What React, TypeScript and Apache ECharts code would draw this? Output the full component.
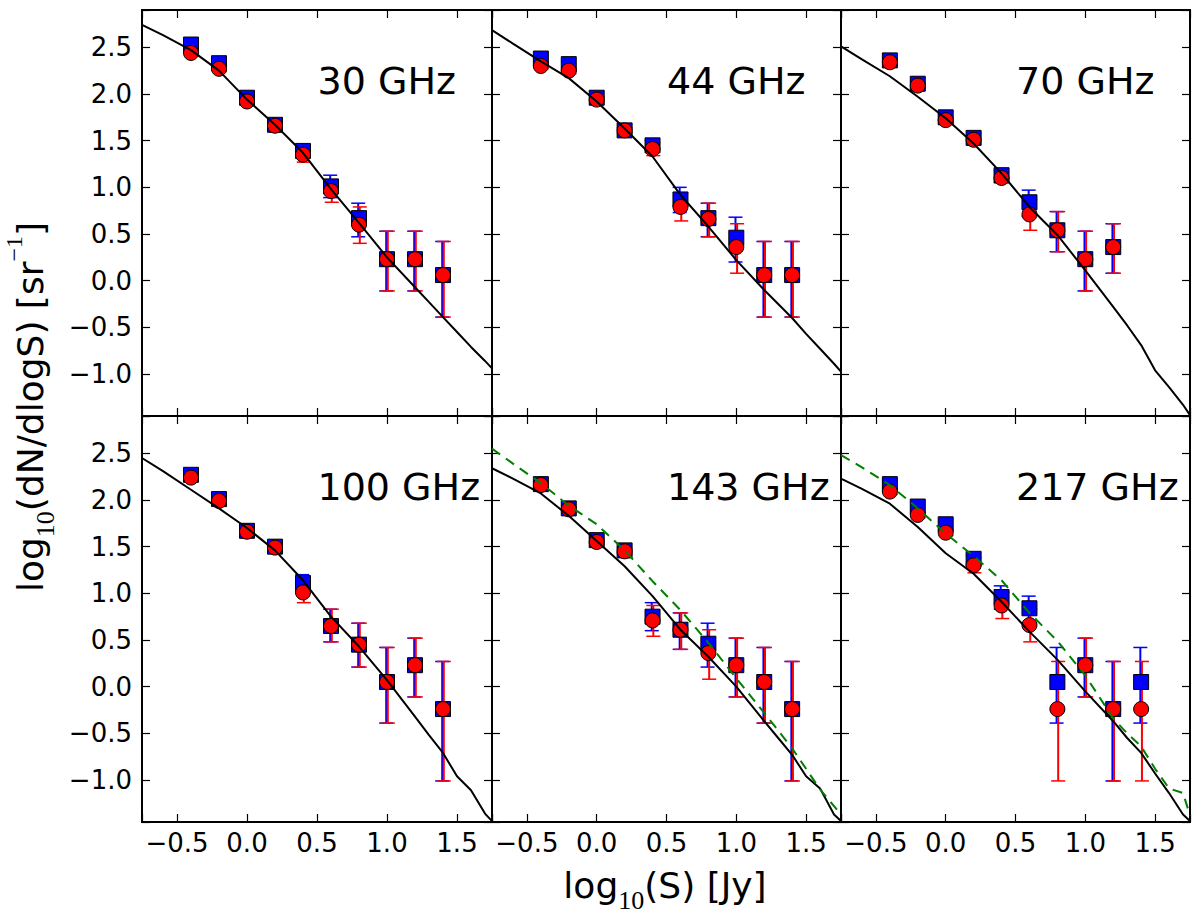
import { useEffect, useRef } from 'react';
import * as echarts from 'echarts';

const SANS = 'DejaVu Sans';
const SERIF = 'Liberation Serif';

const panelNames = ['30 GHz', '44 GHz', '70 GHz', '100 GHz', '143 GHz', '217 GHz'];

// tick labels drawn on the shared axes
const xTickValues = [-0.5, 0.0, 0.5, 1.0, 1.5];
const yTickValues = [-1.0, -0.5, 0.0, 0.5, 1.0, 1.5, 2.0, 2.5];

// log10(S) bins of the measured counts
const fluxX = [-0.4, -0.2, 0.0, 0.2, 0.4, 0.6, 0.8, 1.0, 1.2, 1.4];

// blue squares: value, lower and upper end of the error bar
const blueVal = [
  [2.53, 2.33, 1.96, 1.67, 1.39, 1.01, 0.67, 0.23, 0.23, 0.06],
  [2.38, 2.32, 1.96, 1.61, 1.45, 0.87, 0.67, 0.46, 0.06, 0.06],
  [2.36, 2.11, 1.75, 1.53, 1.13, 0.84, 0.54, 0.23, 0.36],
  [2.27, 2.01, 1.67, 1.5, 1.11, 0.65, 0.45, 0.05, 0.23, -0.24],
  [2.17, 1.91, 1.57, 1.46, 0.75, 0.61, 0.46, 0.23, 0.05, -0.24],
  [2.17, 1.93, 1.74, 1.37, 0.96, 0.84, 0.05, 0.23, -0.24, 0.05],
];
const blueLo = [
  [2.5, 2.3, 1.93, 1.64, 1.34, 0.89, 0.47, -0.11, -0.11, -0.39],
  [2.35, 2.29, 1.93, 1.58, 1.4, 0.73, 0.47, 0.2, -0.39, -0.39],
  [2.33, 2.08, 1.72, 1.5, 1.05, 0.69, 0.31, -0.11, 0.08],
  [2.24, 1.98, 1.64, 1.47, 1.0, 0.48, 0.21, -0.39, -0.11, -1.01],
  [2.14, 1.88, 1.54, 1.43, 0.6, 0.4, 0.21, -0.11, -0.39, -1.01],
  [2.14, 1.9, 1.71, 1.33, 0.83, 0.68, -0.39, -0.11, -1.01, -0.39],
];
const blueHi = [
  [2.56, 2.36, 1.99, 1.7, 1.43, 1.13, 0.83, 0.53, 0.53, 0.42],
  [2.41, 2.35, 1.99, 1.64, 1.5, 1.0, 0.83, 0.68, 0.42, 0.42],
  [2.39, 2.14, 1.78, 1.56, 1.18, 0.97, 0.74, 0.53, 0.61],
  [2.3, 2.04, 1.7, 1.53, 1.2, 0.83, 0.68, 0.42, 0.52, 0.27],
  [2.2, 1.94, 1.6, 1.49, 0.9, 0.79, 0.68, 0.52, 0.42, 0.27],
  [2.2, 1.96, 1.77, 1.41, 1.08, 0.97, 0.42, 0.52, 0.27, 0.42],
];

// red circles
const redVal = [
  [2.44, 2.27, 1.92, 1.66, 1.35, 0.96, 0.6, 0.23, 0.23, 0.06],
  [2.3, 2.25, 1.94, 1.61, 1.41, 0.79, 0.66, 0.36, 0.06, 0.06],
  [2.34, 2.09, 1.72, 1.51, 1.1, 0.71, 0.54, 0.23, 0.36],
  [2.24, 1.99, 1.66, 1.49, 1.01, 0.65, 0.45, 0.05, 0.23, -0.24],
  [2.16, 1.9, 1.55, 1.45, 0.71, 0.61, 0.36, 0.23, 0.05, -0.24],
  [2.09, 1.84, 1.65, 1.3, 0.87, 0.66, -0.24, 0.23, -0.24, -0.24],
];
const redLo = [
  [2.41, 2.24, 1.89, 1.63, 1.27, 0.84, 0.4, -0.11, -0.11, -0.39],
  [2.27, 2.22, 1.91, 1.58, 1.34, 0.64, 0.47, 0.08, -0.39, -0.39],
  [2.31, 2.06, 1.69, 1.46, 1.05, 0.54, 0.31, -0.11, 0.08],
  [2.21, 1.96, 1.63, 1.45, 0.9, 0.48, 0.21, -0.39, -0.11, -1.01],
  [2.13, 1.87, 1.52, 1.42, 0.54, 0.4, 0.08, -0.11, -0.39, -1.01],
  [2.06, 1.81, 1.62, 1.22, 0.73, 0.48, -1.01, -0.11, -1.01, -1.01],
];
const redHi = [
  [2.47, 2.3, 1.95, 1.69, 1.42, 1.08, 0.79, 0.53, 0.53, 0.42],
  [2.33, 2.28, 1.97, 1.64, 1.48, 0.94, 0.83, 0.61, 0.42, 0.42],
  [2.37, 2.12, 1.75, 1.58, 1.16, 0.87, 0.74, 0.53, 0.61],
  [2.27, 2.02, 1.69, 1.52, 1.11, 0.83, 0.68, 0.42, 0.52, 0.27],
  [2.19, 1.93, 1.58, 1.48, 0.87, 0.79, 0.61, 0.52, 0.42, 0.27],
  [2.12, 1.87, 1.68, 1.38, 1.01, 0.83, 0.27, 0.52, 0.27, 0.27],
];

// model curves (black solid) and the dashed green model for 143 / 217 GHz
const modelX = [-0.75, -0.6, -0.4, -0.2, 0.0, 0.2, 0.4, 0.6, 0.8, 1.0, 1.2, 1.3, 1.4, 1.5, 1.6, 1.7, 1.75];
const modelY = [
  [2.74, 2.63, 2.47, 2.25, 1.94, 1.67, 1.37, 0.98, 0.62, 0.25, -0.07, -0.23, -0.39, -0.55, -0.71, -0.86, -0.94],
  [2.685, 2.54, 2.35, 2.17, 1.92, 1.63, 1.33, 0.92, 0.58, 0.22, -0.1, -0.25, -0.4, -0.57, -0.73, -0.89, -0.975],
  [2.51, 2.37, 2.19, 1.97, 1.74, 1.47, 1.15, 0.79, 0.49, 0.11, -0.28, -0.48, -0.69, -0.96, -1.14, -1.33, -1.44],
  [2.45, 2.31, 2.11, 1.91, 1.7, 1.46, 1.14, 0.75, 0.43, 0.07, -0.32, -0.52, -0.71, -0.96, -1.11, -1.36, -1.44],
  [2.34, 2.23, 2.07, 1.83, 1.56, 1.29, 0.97, 0.61, 0.32, 0.0, -0.37, -0.55, -0.73, -0.96, -1.09, -1.37, -1.44],
  [2.23, 2.12, 1.96, 1.71, 1.43, 1.21, 0.91, 0.59, 0.29, -0.05, -0.37, -0.55, -0.71, -0.93, -1.14, -1.37, -1.44],
];
const dashY: (number[] | null)[] = [
  null,
  null,
  null,
  null,
  [2.55, 2.39, 2.18, 1.94, 1.74, 1.46, 1.13, 0.82, 0.47, 0.09, -0.28, -0.47, -0.66, -0.88, -1.1, -1.28, -1.37],
  [2.48, 2.35, 2.16, 1.91, 1.64, 1.4, 1.14, 0.79, 0.49, 0.12, -0.34, -0.5, -0.64, -0.88, -1.09, -1.14, -1.38],
];

// where each panel's frequency label sits, in data units
const labelAt = [0.5, 2.0];

const gridLeft = [142, 492, 841];
const gridWidth = [350, 349, 349];
const gridTop = [10, 416];

const fmtTicks = (ticks: number[]) => (v: number) =>
  ticks.some((t) => Math.abs(t - v) < 1e-6) ? v.toFixed(1).replace('-', '\u2212') : '';

const tickStyle = { show: true, inside: true, length: 8, lineStyle: { color: '#000', width: 1.2 } };

const errRender = (dx: number, color: string) => (params: any, api: any) => {
  const x = api.value(0);
  const lo = api.coord([x, api.value(1)]);
  const hi = api.coord([x, api.value(2)]);
  const cx = lo[0] + dx;
  return {
    type: 'group',
    children: [
      { type: 'line', shape: { x1: cx, y1: lo[1], x2: cx, y2: hi[1] }, style: { stroke: color, lineWidth: 2 } },
      { type: 'line', shape: { x1: cx - 7, y1: lo[1], x2: cx + 7, y2: lo[1] }, style: { stroke: color, lineWidth: 1.5 } },
      { type: 'line', shape: { x1: cx - 7, y1: hi[1], x2: cx + 7, y2: hi[1] }, style: { stroke: color, lineWidth: 1.5 } },
    ],
  };
};

const labelRich = {
  a: { fontSize: 36, fontFamily: SANS, lineHeight: 56, fill: '#000' },
  s: { fontSize: 26, fontFamily: SERIF, verticalAlign: 'bottom', lineHeight: 38, fill: '#000' },
  p: { fontSize: 24, fontFamily: SERIF, verticalAlign: 'top', lineHeight: 26, fill: '#000' },
};

export default function App() {
  const chartRef = useRef<HTMLDivElement>(null);

  useEffect(() => {
    if (!chartRef.current) return;
    const chart = echarts.init(chartRef.current, null, { renderer: 'svg' });

    const grids: any[] = [];
    const xAxes: any[] = [];
    const yAxes: any[] = [];
    const series: any[] = [];

    panelNames.forEach((name, i) => {
      const row = Math.floor(i / 3);
      const col = i % 3;
      grids.push({
        left: gridLeft[col],
        top: gridTop[row],
        width: gridWidth[col],
        height: 406,
        show: true,
        borderColor: '#000',
        borderWidth: 2,
        backgroundColor: 'transparent',
        outerBoundsMode: 'none',
      });
      ['bottom', 'top'].forEach((pos) => {
        xAxes.push({
          type: 'value',
          gridIndex: i,
          position: pos,
          min: -0.75,
          max: 1.75,
          splitNumber: 5,
          axisLine: { show: false, onZero: false },
          axisTick: tickStyle,
          splitLine: { show: false },
          axisLabel: {
            show: pos === 'bottom' && row === 1,
            formatter: fmtTicks(xTickValues),
            fontSize: 26,
            fontFamily: SANS,
            color: '#000',
            margin: 8,
          },
        });
      });
      ['left', 'right'].forEach((pos) => {
        yAxes.push({
          type: 'value',
          gridIndex: i,
          position: pos,
          min: -1.45,
          max: 2.9,
          splitNumber: 8,
          axisLine: { show: false, onZero: false },
          axisTick: tickStyle,
          splitLine: { show: false },
          axisLabel: {
            show: pos === 'left' && col === 0,
            formatter: fmtTicks(yTickValues),
            fontSize: 26,
            fontFamily: SANS,
            color: '#000',
            margin: 10,
          },
        });
      });

      const ax = { xAxisIndex: 2 * i, yAxisIndex: 2 * i };

      series.push({
        ...ax,
        type: 'line',
        data: modelX.map((x, j) => [x, modelY[i][j]]),
        symbol: 'none',
        lineStyle: { color: '#000', width: 2 },
        silent: true,
      });
      series.push({
        ...ax,
        type: 'custom',
        data: blueVal[i].map((_, j) => [fluxX[j], blueLo[i][j], blueHi[i][j]]),
        encode: { x: 0, y: [1, 2] },
        renderItem: errRender(-0.8, '#0000ff'),
        silent: true,
      });
      series.push({
        ...ax,
        type: 'custom',
        data: redVal[i].map((_, j) => [fluxX[j], redLo[i][j], redHi[i][j]]),
        encode: { x: 0, y: [1, 2] },
        renderItem: errRender(0.8, '#ff0000'),
        silent: true,
      });
      series.push({
        ...ax,
        type: 'scatter',
        data: blueVal[i].map((v, j) => [fluxX[j], v]),
        symbol: 'rect',
        symbolSize: 15,
        itemStyle: { color: '#0000ff', borderColor: '#000', borderWidth: 1, opacity: 1 },
        silent: true,
      });
      series.push({
        ...ax,
        type: 'scatter',
        data: redVal[i].map((v, j) => [fluxX[j], v]),
        symbol: 'circle',
        symbolSize: 15,
        itemStyle: { color: '#ff0000', borderColor: '#000', borderWidth: 1, opacity: 1 },
        silent: true,
      });
      const dash = dashY[i];
      if (dash) {
        series.push({
          ...ax,
          type: 'line',
          data: modelX.map((x, j) => [x, dash[j]]),
          symbol: 'none',
          lineStyle: { color: '#007f00', width: 2, type: [10, 7] },
          silent: true,
        });
      }
      series.push({
        ...ax,
        type: 'scatter',
        data: [labelAt],
        symbolSize: 1,
        itemStyle: { color: 'transparent', opacity: 1 },
        silent: true,
        label: {
          show: true,
          position: 'right',
          distance: 0,
          offset: [0, -13],
          formatter: name,
          fontSize: 38,
          fontFamily: SANS,
          color: '#000',
          opacity: 1,
        },
      });
    });

    chart.setOption({
      animation: false,
      backgroundColor: '#fff',
      grid: grids,
      xAxis: xAxes,
      yAxis: yAxes,
      series,
      graphic: [
        {
          type: 'text',
          x: 665,
          y: 885,
          style: {
            text: '{a|log}{s|10}{a|(S) [Jy]}',
            rich: labelRich,
            align: 'center',
            verticalAlign: 'middle',
          },
        },
        {
          type: 'text',
          x: 30,
          y: 407,
          rotation: Math.PI / 2,
          style: {
            text: '{a|log}{s|10}{a|(dN/dlogS) [sr}{p|\u22121}{a|]}',
            rich: labelRich,
            align: 'center',
            verticalAlign: 'middle',
          },
        },
      ],
    });

    return () => chart.dispose();
  }, []);

  return (
    <div
      ref={chartRef}
      style={{ position: 'fixed', left: 0, top: 0, width: 1200, height: 917, background: '#fff' }}
    ></div>
  );
}
